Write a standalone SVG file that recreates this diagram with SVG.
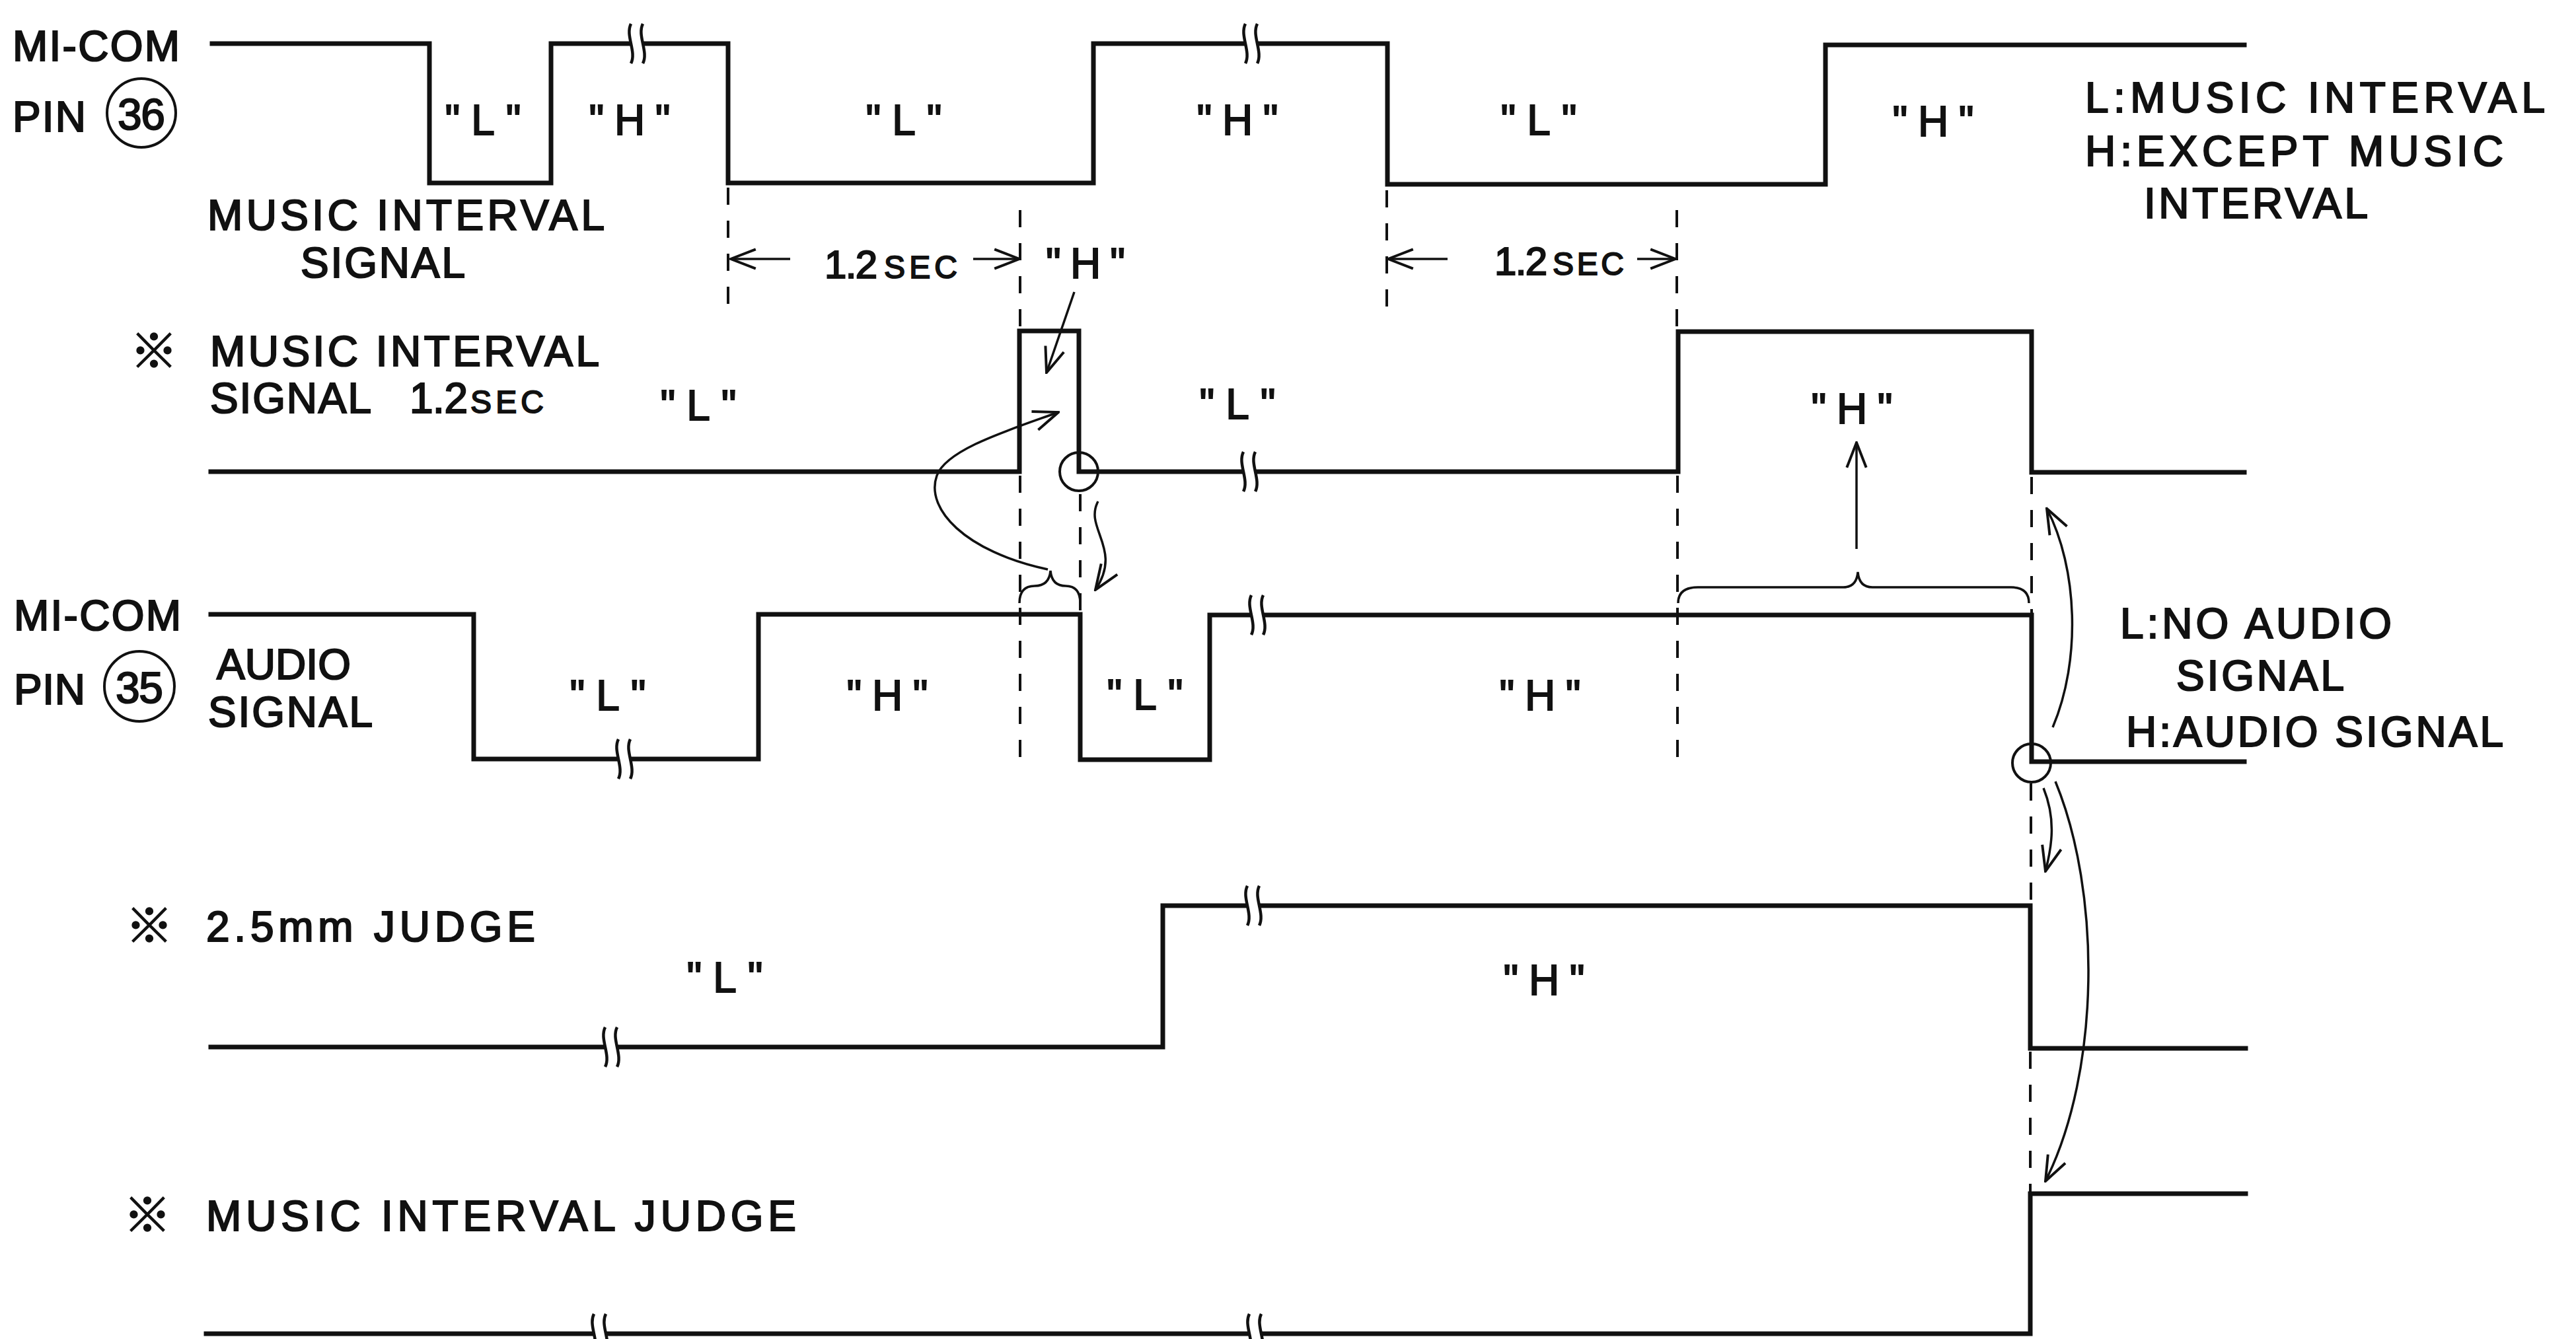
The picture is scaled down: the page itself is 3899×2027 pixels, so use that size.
<svg xmlns="http://www.w3.org/2000/svg" xmlns:xlink="http://www.w3.org/1999/xlink" width="3899" height="2027" viewBox="0 0 3899 2027">
<style>
.t{font-family:"Liberation Sans",Arial,sans-serif;font-size:64px;fill:#111;stroke:#111;stroke-width:2.2;}
.q{font-family:"Liberation Sans",Arial,sans-serif;font-size:64px;fill:#111;stroke:#111;stroke-width:2;text-anchor:middle;}
.sm{font-family:"Liberation Sans",Arial,sans-serif;font-size:48px;fill:#111;stroke:#111;stroke-width:2;}
.kome{font-family:"Noto Sans CJK JP","Noto Sans CJK SC",sans-serif;font-size:72px;fill:#111;stroke:#111;stroke-width:1.5;text-anchor:middle;}
.sig{fill:none;stroke:#111;stroke-width:7;stroke-linejoin:miter;stroke-linecap:square;}
.dash{fill:none;stroke:#111;stroke-width:4;stroke-dasharray:26 24;}
.thin{fill:none;stroke:#111;stroke-width:3.5;}
.arr{fill:none;stroke:#111;stroke-width:3.5;marker-end:url(#ah);}
.ring{fill:none;stroke:#111;stroke-width:4;}
</style>
<defs>
<marker id="ah" viewBox="0 0 20 20" refX="19" refY="10" markerWidth="42" markerHeight="42" markerUnits="userSpaceOnUse" orient="auto">
<path d="M1,3 L19,10 L1,17" fill="none" stroke="#111" stroke-width="1.9"/>
</marker>
<g id="brk">
<rect x="-8" y="-9" width="16" height="18" fill="#fff"/>
<path d="M-9,-30 C-18,-12 0,12 -9,30 M9,-30 C0,-12 18,12 9,30" fill="none" stroke="#111" stroke-width="4.5"/>
</g>
</defs>
<rect width="3899" height="2027" fill="#fff"/>

<g id="row-pin36">
<path class="sig" d="M321,66 H650 V277 H834 V66 H1102 V277 H1655 V66 H2100 V279 H2763 V68 H3397"/>
<use xlink:href="#brk" x="964" y="66"/>
<use xlink:href="#brk" x="1894" y="66"/>
<text class="t" x="19" y="92" textLength="253" lengthAdjust="spacing">MI-COM</text>
<text class="t" x="19" y="199" textLength="111" lengthAdjust="spacing">PIN</text>
<circle class="ring" cx="214" cy="171" r="52"/>
<text class="q" x="214" y="196" style="font-size:66px" textLength="72" lengthAdjust="spacing">36</text>
<text class="t" x="314" y="348" textLength="601" lengthAdjust="spacing">MUSIC INTERVAL</text>
<text class="t" x="455" y="420" textLength="249" lengthAdjust="spacing">SIGNAL</text>
<text class="q" x="731" y="204" textLength="115" lengthAdjust="spacing">"L"</text>
<text class="q" x="953" y="204" textLength="123" lengthAdjust="spacing">"H"</text>
<text class="q" x="1368" y="204" textLength="115" lengthAdjust="spacing">"L"</text>
<text class="q" x="1873" y="204" textLength="123" lengthAdjust="spacing">"H"</text>
<text class="q" x="2329" y="204" textLength="115" lengthAdjust="spacing">"L"</text>
<text class="q" x="2926" y="206" textLength="123" lengthAdjust="spacing">"H"</text>
</g>

<g id="legend-pin36">
<text class="t" x="3156" y="170" textLength="696" lengthAdjust="spacing">L:MUSIC INTERVAL</text>
<text class="t" x="3156" y="251" textLength="633" lengthAdjust="spacing">H:EXCEPT MUSIC</text>
<text class="t" x="3245" y="330" textLength="339" lengthAdjust="spacing">INTERVAL</text>
</g>

<g id="row-mi-1-2sec">
<path class="sig" d="M319,714 H1543 V501 H1633 V714 H2540 V502 H3075 V715 H3397"/>
<use xlink:href="#brk" x="1891" y="714"/>
<text class="kome" x="233" y="557">※</text>
<text class="t" x="318" y="554" textLength="589" lengthAdjust="spacing">MUSIC INTERVAL</text>
<text class="t" x="318" y="625" textLength="244" lengthAdjust="spacing">SIGNAL</text>
<text class="t" x="620" y="625" textLength="88" lengthAdjust="spacing">1.2</text>
<text class="sm" x="712" y="625" textLength="111" lengthAdjust="spacing">SEC</text>
<text class="q" x="1057" y="636" textLength="115" lengthAdjust="spacing">"L"</text>
<text class="q" x="1873" y="634" textLength="115" lengthAdjust="spacing">"L"</text>
<text class="q" x="2803" y="641" textLength="123" lengthAdjust="spacing">"H"</text>
<circle class="ring" cx="1633" cy="714" r="29"/>
</g>

<g id="row-pin35">
<path class="sig" d="M319,930 H717 V1149 H1148 V930 H1635 V1150 H1831 V931 H3075 V1153 H3397"/>
<use xlink:href="#brk" x="945" y="1149"/>
<use xlink:href="#brk" x="1903" y="931"/>
<text class="t" x="21" y="954" textLength="253" lengthAdjust="spacing">MI-COM</text>
<text class="t" x="21" y="1066" textLength="108" lengthAdjust="spacing">PIN</text>
<circle class="ring" cx="211" cy="1039" r="53"/>
<text class="q" x="211" y="1064" style="font-size:66px" textLength="72" lengthAdjust="spacing">35</text>
<text class="t" x="328" y="1028" textLength="203" lengthAdjust="spacing">AUDIO</text>
<text class="t" x="315" y="1100" textLength="249" lengthAdjust="spacing">SIGNAL</text>
<text class="q" x="920" y="1075" textLength="115" lengthAdjust="spacing">"L"</text>
<text class="q" x="1343" y="1075" textLength="123" lengthAdjust="spacing">"H"</text>
<text class="q" x="1733" y="1074" textLength="115" lengthAdjust="spacing">"L"</text>
<text class="q" x="2331" y="1075" textLength="123" lengthAdjust="spacing">"H"</text>
<circle class="ring" cx="3075" cy="1155" r="29"/>
</g>

<g id="legend-pin35">
<text class="t" x="3209" y="966" textLength="411" lengthAdjust="spacing">L:NO AUDIO</text>
<text class="t" x="3294" y="1045" textLength="254" lengthAdjust="spacing">SIGNAL</text>
<text class="t" x="3218" y="1130" textLength="571" lengthAdjust="spacing">H:AUDIO SIGNAL</text>
</g>

<g id="row-judge-2-5mm">
<path class="sig" d="M319,1585 H1760 V1371 H3073 V1587 H3399"/>
<use xlink:href="#brk" x="925" y="1585"/>
<use xlink:href="#brk" x="1897" y="1371"/>
<text class="kome" x="226" y="1427">※</text>
<text class="t" x="312" y="1425" textLength="498" lengthAdjust="spacing">2.5mm JUDGE</text>
<text class="q" x="1097" y="1502" textLength="115" lengthAdjust="spacing">"L"</text>
<text class="q" x="2337" y="1506" textLength="123" lengthAdjust="spacing">"H"</text>
</g>

<g id="row-mi-judge">
<path class="sig" d="M312,2019 H3073 V1807 H3399"/>
<use xlink:href="#brk" x="908" y="2019"/>
<use xlink:href="#brk" x="1900" y="2019"/>
<text class="kome" x="223" y="1865">※</text>
<text class="t" x="312" y="1863" textLength="893" lengthAdjust="spacing">MUSIC INTERVAL JUDGE</text>
</g>

<g id="connectors">
<line class="dash" x1="1102" y1="284" x2="1102" y2="470"/>
<line class="dash" x1="1544" y1="318" x2="1544" y2="500"/>
<line class="dash" x1="1544" y1="720" x2="1544" y2="1156"/>
<line class="dash" x1="2099" y1="288" x2="2099" y2="466"/>
<line class="dash" x1="2538" y1="318" x2="2538" y2="500"/>
<line class="dash" x1="2539" y1="720" x2="2539" y2="1156"/>
<line class="dash" x1="1635" y1="748" x2="1635" y2="928"/>
<line class="dash" x1="3075" y1="722" x2="3075" y2="928"/>
<line class="dash" x1="3074" y1="1186" x2="3074" y2="1370"/>
<line class="dash" x1="3073" y1="1592" x2="3073" y2="1806"/>

<line class="arr" x1="1196" y1="392" x2="1106" y2="392"/>
<text class="t" x="1248" y="421" style="font-size:60px" textLength="80" lengthAdjust="spacing">1.2</text>
<text class="sm" x="1338" y="421" textLength="111" lengthAdjust="spacing">SEC</text>
<line class="arr" x1="1473" y1="392" x2="1543" y2="392"/>
<line class="arr" x1="2191" y1="392" x2="2101" y2="392"/>
<text class="t" x="2262" y="416" style="font-size:60px" textLength="80" lengthAdjust="spacing">1.2</text>
<text class="sm" x="2350" y="416" textLength="108" lengthAdjust="spacing">SEC</text>
<line class="arr" x1="2478" y1="392" x2="2536" y2="392"/>
<text class="q" x="1643" y="421" textLength="120" lengthAdjust="spacing">"H"</text>

<line class="arr" x1="1626" y1="442" x2="1584" y2="564"/>
<path class="arr" d="M1586,862 C1460,835 1400,770 1418,720 C1432,680 1530,650 1602,624"/>
<path class="arr" d="M1662,759 C1640,800 1700,830 1658,893"/>
<path class="thin" d="M1543,913 Q1543,887 1566,887 Q1588,887 1590,864 Q1592,887 1613,887 Q1635,887 1635,913"/>
<path class="thin" d="M2540,913 Q2540,889 2570,889 L2790,889 Q2810,889 2812,866 Q2814,889 2834,889 L3044,889 Q3071,889 3071,913"/>
<line class="arr" x1="2810" y1="831" x2="2810" y2="670"/>
<path class="arr" d="M3107,1101 C3150,1000 3145,860 3098,770"/>
<path class="arr" d="M3093,1193 C3112,1240 3106,1280 3096,1319"/>
<path class="arr" d="M3111,1183 C3180,1350 3180,1620 3096,1788"/>
</g>
</svg>
